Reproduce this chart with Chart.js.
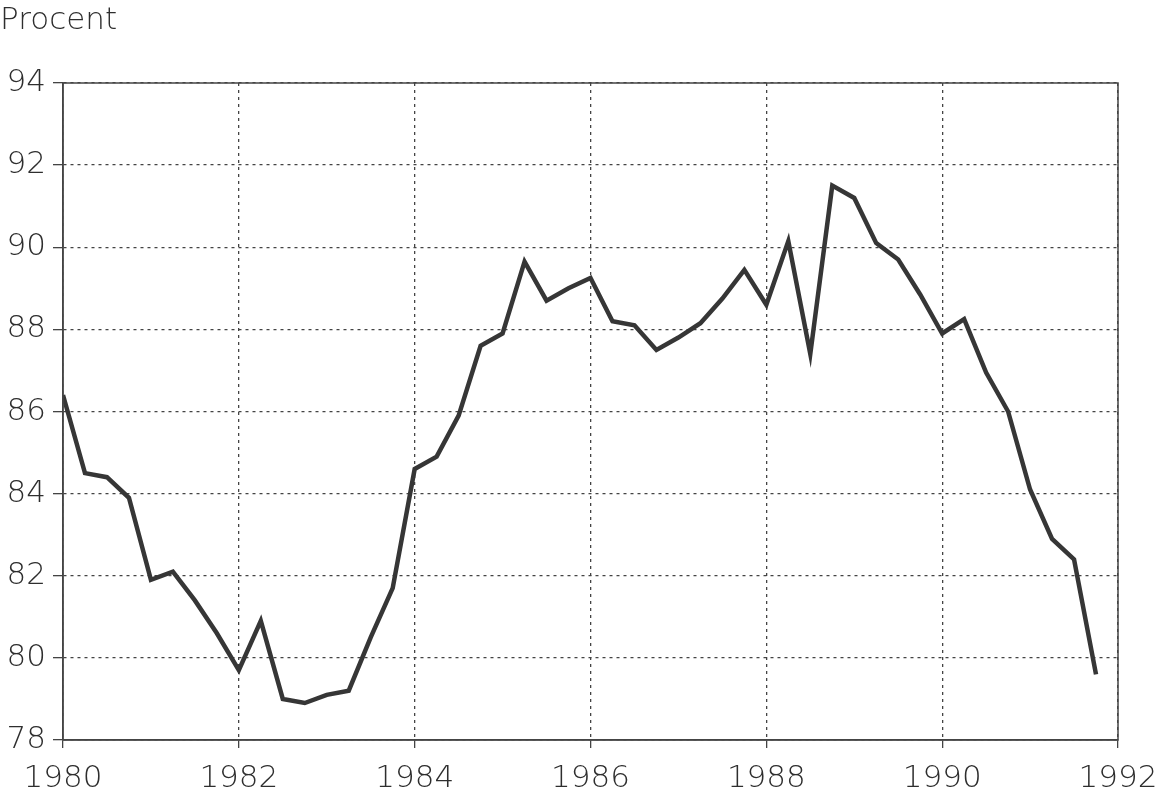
<!DOCTYPE html>
<html>
<head>
<meta charset="utf-8">
<script src="https://cdn.jsdelivr.net/npm/chart.js@4/dist/chart.umd.min.js"></script>
<style>
  html, body { margin: 0; padding: 0; background: #ffffff; }
  #wrap { width: 1161px; height: 794px; position: relative; }
</style>
</head>
<body>
<div id="wrap"><canvas id="c" width="1161" height="794"></canvas></div>
<script>
// Quarterly series, 1980 Q1 - 1991 Q4 (percent)
const startYear = 1980;
const values = [
  86.4, 84.5, 84.4, 83.9,   // 1980
  81.9, 82.1, 81.4, 80.6,   // 1981
  79.7, 80.9, 79.0, 78.9,   // 1982
  79.1, 79.2, 80.5, 81.7,   // 1983
  84.6, 84.9, 85.9, 87.6,   // 1984
  87.9, 89.65, 88.7, 89.0,  // 1985
  89.25, 88.2, 88.1, 87.5,  // 1986
  87.8, 88.15, 88.75, 89.45,// 1987
  88.6, 90.15, 87.4, 91.5,  // 1988
  91.2, 90.1, 89.7, 88.85,  // 1989
  87.9, 88.25, 86.95, 86.0, // 1990
  84.1, 82.9, 82.4, 79.6    // 1991
];
const xTicks = [1980, 1982, 1984, 1986, 1988, 1990, 1992];
const yTicks = [78, 80, 82, 84, 86, 88, 90, 92, 94];
const yTitle = "Procent";

const points = values.map((v, i) => ({ x: startYear + i / 4, y: v }));

const FONT = "'DejaVu Sans', 'Liberation Sans', sans-serif";
const INK = '#2e2e2e';

const frame = {
  id: 'frame',
  afterDraw(chart) {
    const { ctx, chartArea: a } = chart;
    ctx.save();
    ctx.strokeStyle = '#444';
    ctx.lineWidth = 1.5;
    ctx.setLineDash([]);
    ctx.strokeRect(a.left, a.top, a.right - a.left, a.bottom - a.top);
    ctx.fillStyle = INK;
    ctx.font = '300 31px ' + FONT;
    ctx.textBaseline = 'alphabetic';
    ctx.textAlign = 'left';
    ctx.fillText(yTitle, 0, 29);
    ctx.restore();
  }
};

new Chart(document.getElementById('c'), {
  type: 'line',
  data: {
    datasets: [{
      data: points,
      borderColor: '#363636',
      borderWidth: 4.5,
      pointRadius: 0,
      tension: 0,
      fill: false
    }]
  },
  options: {
    responsive: false,
    animation: false,
    layout: { padding: { top: 83, right: 43, left: 0, bottom: 0 } },
    plugins: { legend: { display: false }, tooltip: { enabled: false }, title: { display: false } },
    scales: {
      x: {
        type: 'linear',
        min: 1980, max: 1992,
        afterBuildTicks: s => { s.ticks = xTicks.map(v => ({ value: v })); },
        afterFit: s => { s.height = 54; s.paddingLeft = 0; s.paddingRight = 0; },
        ticks: {
          callback: v => String(v),
          color: INK,
          font: { family: FONT, size: 31, weight: '300' },
          padding: 12,
          maxRotation: 0,
          autoSkip: false
        },
        grid: { color: '#444', lineWidth: 1.3, tickLength: 8, tickColor: '#444', tickWidth: 1.3 },
        border: { display: true, color: '#444', width: 1.5, dash: [3, 4] }
      },
      y: {
        min: 78, max: 94,
        afterBuildTicks: s => { s.ticks = yTicks.map(v => ({ value: v })); },
        afterFit: s => { s.width = 63; s.paddingTop = 0; s.paddingBottom = 0; },
        ticks: {
          callback: v => String(v),
          color: INK,
          font: { family: FONT, size: 31, weight: '300' },
          padding: 7
        },
        grid: { color: '#444', lineWidth: 1.3, tickLength: 10, tickColor: '#444', tickWidth: 1.3 },
        border: { display: true, color: '#444', width: 1.5, dash: [3, 4] }
      }
    }
  },
  plugins: [frame]
});
</script>
</body>
</html>
